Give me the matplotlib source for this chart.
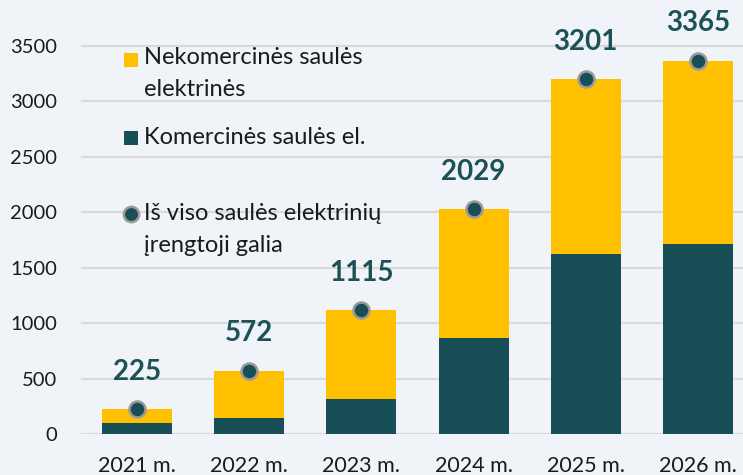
import matplotlib
matplotlib.use("Agg")
import matplotlib.pyplot as plt
import numpy as np

categories = ["2021 m.", "2022 m.", "2023 m.", "2024 m.", "2025 m.", "2026 m."]
total = [225, 572, 1115, 2029, 3201, 3365]
commercial = [100, 148, 316, 870, 1627, 1715]
noncommercial = [t - c for t, c in zip(total, commercial)]
yticks = [0, 500, 1000, 1500, 2000, 2500, 3000, 3500]

BG = "#F0F3F7"
YEL = "#FFC000"
TEAL = "#184E56"
LBL = "#1B5258"

plt.rcParams['font.family'] = ['Lato', 'DejaVu Sans']

W, H = 743, 475
fig = plt.figure(figsize=(W / 100, H / 100), dpi=100, facecolor=BG)
left, right = 81, 754
ymax = 3500 * 434 / (434 - 46)
ax = fig.add_axes([left / W, (H - 434) / H, (right - left) / W, 434 / H])
ax.set_facecolor(BG)
ax.set_ylim(0, ymax)
ax.set_xlim(-0.5, 5.5)

x = np.arange(len(categories))
bw = 0.623
ax.bar(x, commercial, width=bw, color=TEAL, zorder=2)
ax.bar(x, noncommercial, width=bw, bottom=commercial, color=YEL, zorder=2)
ax.plot(x, total, linestyle="none", marker="o", markersize=11.5,
        markerfacecolor=TEAL, markeredgecolor="#9A9A9A", markeredgewidth=1.8, zorder=4,
        clip_on=False)
for xi, t in zip(x, total):
    ax.annotate(str(t), (xi, t), xytext=(0, 27), textcoords="offset points",
                ha="center", va="center", fontsize=20, fontweight="bold", color=LBL,
                zorder=5)

ax.set_yticks(yticks)
ax.set_yticklabels([str(v) for v in yticks], fontsize=14.5, color="#1A1A1A")
ax.set_xticks(x)
ax.set_xticklabels(categories, fontsize=15.5, color="#1A1A1A")
ax.tick_params(axis="both", length=0)
ax.tick_params(axis="y", pad=17)
ax.tick_params(axis="x", pad=16)
ax.yaxis.grid(True, color="#D9D9D9", linewidth=1.5, zorder=0)
ax.set_axisbelow(True)
for s in ax.spines.values():
    s.set_visible(False)

def fx(px):
    return px / W
def fy(py):
    return 1 - py / H

fs = 17
tc = "#1A1A1A"
fig.patches.append(plt.Rectangle((fx(124), fy(67)), 14 / W, 14 / H, transform=fig.transFigure,
                                 facecolor=YEL, edgecolor="none", zorder=10))
fig.text(fx(144), fy(58), "Nekomercinės saulės", fontsize=fs, va="center", ha="left", color=tc)
fig.text(fx(144), fy(89), "elektrinės", fontsize=fs, va="center", ha="left", color=tc)
fig.patches.append(plt.Rectangle((fx(124), fy(145)), 14 / W, 14 / H, transform=fig.transFigure,
                                 facecolor=TEAL, edgecolor="none", zorder=10))
fig.text(fx(144), fy(137), "Komercinės saulės el.", fontsize=fs, va="center", ha="left", color=tc)
fig.lines.append(plt.Line2D([fx(131)], [fy(214)], transform=fig.transFigure, marker="o",
                            markersize=11, markerfacecolor=TEAL, markeredgecolor="#9A9A9A",
                            markeredgewidth=1.8, linestyle="none"))
fig.text(fx(144), fy(214), "Iš viso saulės elektrinių", fontsize=fs, va="center", ha="left", color=tc)
fig.text(fx(144), fy(246), "įrengtoji galia", fontsize=fs, va="center", ha="left", color=tc)

fig.savefig("out.png", dpi=100, facecolor=BG)
